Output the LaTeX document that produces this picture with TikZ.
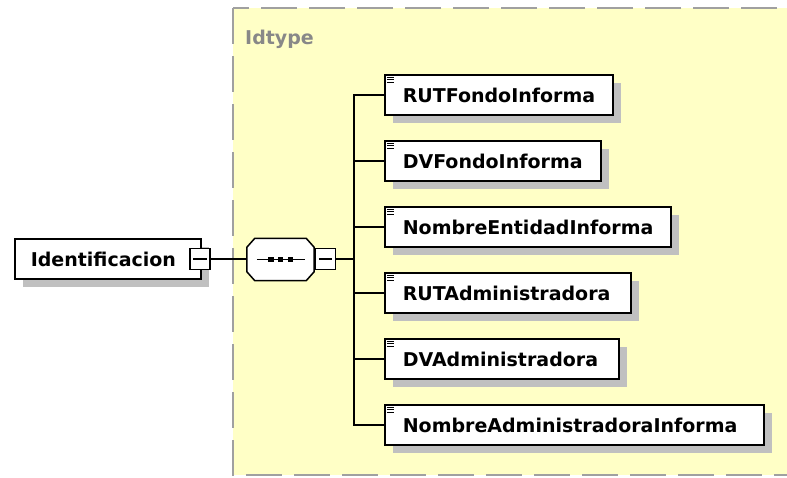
\documentclass[tikz,border=0pt]{standalone}
\usepackage{fontspec}
\setmainfont{DejaVu Sans}
\usetikzlibrary{shadows}
\definecolor{bgyellow}{RGB}{255,255,198}
\definecolor{dashgray}{RGB}{160,160,160}
\definecolor{shadowgray}{RGB}{192,192,192}
\definecolor{labelgray}{RGB}{136,136,136}
\tikzset{
  boxfont/.style={font=\fontsize{19}{22}\selectfont\bfseries},
  elembox/.style={draw=black, line width=1.6pt, fill=white, boxfont,
    inner xsep=0pt, inner ysep=0pt, minimum height=40pt, anchor=west, align=left,
    drop shadow={shadow xshift=8pt, shadow yshift=-8pt, opacity=1, fill=shadowgray}},
  minusbox/.style={draw=black, line width=1.3pt, fill=white, minimum width=20pt,
    minimum height=21pt, inner sep=0pt},
  conn/.style={draw=black, line width=1.5pt},
  seqarea/.style={minimum width=67pt, minimum height=42pt, inner sep=0pt},
  dashbox/.style={draw=dashgray, line width=2.5pt, dash pattern=on 36pt off 12pt, fill=bgyellow}
}
\begin{document}
\begin{tikzpicture}[x=1pt,y=-1pt]
\useasboundingbox (0,0) rectangle (787,477);
\clip (0,0) rectangle (787,477);
\fill[white] (0,0) rectangle (787,477);
% complex type area
\draw[dashbox] (233,8) rectangle (830,475);
\node[anchor=base west, boxfont, text=labelgray, inner sep=0pt] (typelbl) at (245,44) {Idtype};
% root element
\node[elembox, text width=186pt] (root) at (14,259) {\hspace*{16pt}Identificacion};
\node[minusbox] (rootminus) at (200,259) {};
\draw[line width=1.3pt] ([xshift=4pt]rootminus.west) -- ([xshift=-4pt]rootminus.east);
% sequence compositor
\node[seqarea] (seq) at (280.5,259.5) {};
\fill[shadowgray, shift={(8,6)}]
  ([xshift=8pt]seq.north west) -- ([xshift=-8pt]seq.north east) -- ([yshift=-9pt]seq.north east)
  -- ([yshift=9pt]seq.south east) -- ([xshift=-8pt]seq.south east) -- ([xshift=8pt]seq.south west)
  -- ([yshift=9pt]seq.south west) -- ([yshift=-9pt]seq.north west) -- cycle;
\filldraw[fill=white, draw=black, line width=1.5pt]
  ([xshift=8pt]seq.north west) -- ([xshift=-8pt]seq.north east) -- ([yshift=-9pt]seq.north east)
  -- ([yshift=9pt]seq.south east) -- ([xshift=-8pt]seq.south east) -- ([xshift=8pt]seq.south west)
  -- ([yshift=9pt]seq.south west) -- ([yshift=-9pt]seq.north west) -- cycle;
\draw[line width=1.3pt] ([xshift=10pt]seq.west) -- ([xshift=-9pt]seq.east);
\foreach \dx in {-9.5,0,10} \fill ([xshift=\dx pt]seq.center) +(-2.8,-2.8) rectangle +(2.8,2.8);
\node[minusbox] (seqminus) at (325.5,259) {};
\draw[line width=1.3pt] ([xshift=4pt]seqminus.west) -- ([xshift=-4pt]seqminus.east);
\draw[conn] (rootminus.east) -- (rootminus.east -| seq.west);
% bus
\coordinate (bus) at (354,259);
\draw[conn] (seqminus.east) -- (bus);
% child elements
\node[elembox, text width=228pt] (e1) at (384,95) {\hspace*{18pt}RUTFondoInforma};
\node[elembox, text width=216pt] (e2) at (384,161) {\hspace*{18pt}DVFondoInforma};
\node[elembox, text width=286pt] (e3) at (384,227) {\hspace*{18pt}NombreEntidadInforma};
\node[elembox, text width=246pt] (e4) at (384,293) {\hspace*{18pt}RUTAdministradora};
\node[elembox, text width=234pt] (e5) at (384,359) {\hspace*{18pt}DVAdministradora};
\node[elembox, text width=379pt] (e6) at (384,425) {\hspace*{18pt}NombreAdministradoraInforma};
\foreach \e in {e1,e2,e3,e4,e5,e6}{
  \draw[conn] (bus) |- (\e.west);
  \foreach \dy in {3,5.5,8}
    \draw[line width=1pt] ([shift={(3,\dy)}]\e.north west) -- ++(7,0);
}
\end{tikzpicture}
\end{document}
